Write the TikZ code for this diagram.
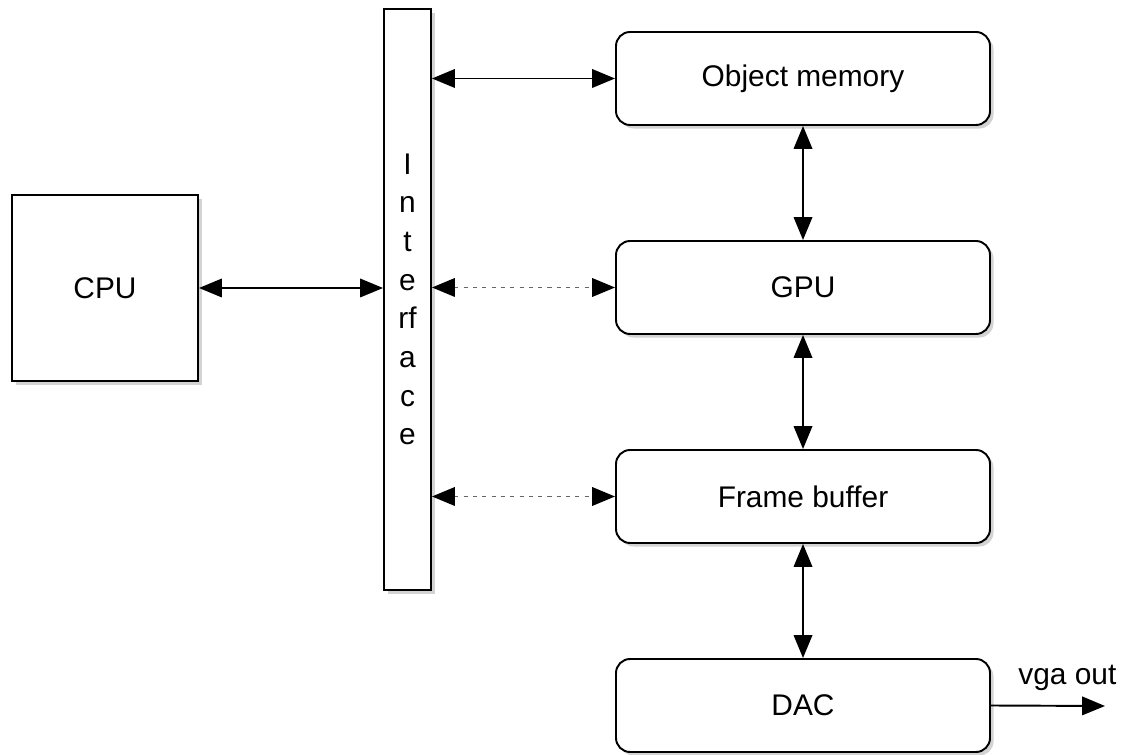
\documentclass[tikz,border=0pt]{standalone}
\usepackage{fontspec}
\setmainfont{Liberation Sans}
\usetikzlibrary{arrows.meta,shadows}
\tikzset{
  blk/.style={draw,line width=1.1pt,fill=white,
    drop shadow={shadow xshift=2pt,shadow yshift=-2pt,opacity=0.35},
    font=\fontsize{17}{22}\selectfont},
  unit/.style={blk,rounded corners=8pt,minimum width=7.48cm,minimum height=1.86cm,inner sep=0pt},
  link/.style={line width=1.1pt,
    {Triangle[length=13pt,width=10.5pt,color=black]}-{Triangle[length=13pt,width=10.5pt,color=black]}},
  weak/.style={link,draw=black!60,dash pattern=on 2.3pt off 3pt}
}
\begin{document}
\begin{tikzpicture}
\useasboundingbox (0,0) rectangle (22.52,15.1);
\def\cx{16.06};
\def\dy{4.18};
\node[blk,minimum width=3.72cm,minimum height=3.72cm] (cpu) at (2.10,9.34) {CPU};
\node[blk,minimum width=0.94cm,minimum height=11.62cm,inner sep=0pt,align=center] (iface) at (8.15,9.11) {I\\n\\t\\e\\rf\\a\\c\\e};
%units
\foreach\n/\t/\k in {mem/Object memory/0,gpu/GPU/1,fb/Frame buffer/2,dac/DAC/3} {
  \node[unit] (\n) at (\cx,13.53-\k*\dy) {\t};
}
%bus
\draw[link] (cpu.east) -- (cpu.east -| iface.west);
\draw[link] (iface.east |- mem.west) -- (mem.west);
\draw[weak] (iface.east |- gpu.west) -- (gpu.west);
\draw[weak] (iface.east |- fb.west) -- (fb.west);
\foreach\a/\b in {mem/gpu,gpu/fb,fb/dac} {
  \draw[link] (\a) -- (\b);
}
%output
\coordinate (vga) at (22.10,0.98);
\draw[line width=1.1pt,-{Triangle[length=13pt,width=10.5pt]}] (dac.east) -- (vga)
  node[pos=0.67,above=4.5pt,font=\fontsize{17}{22}\selectfont] (vgalbl) {vga out};
\end{tikzpicture}
\end{document}
